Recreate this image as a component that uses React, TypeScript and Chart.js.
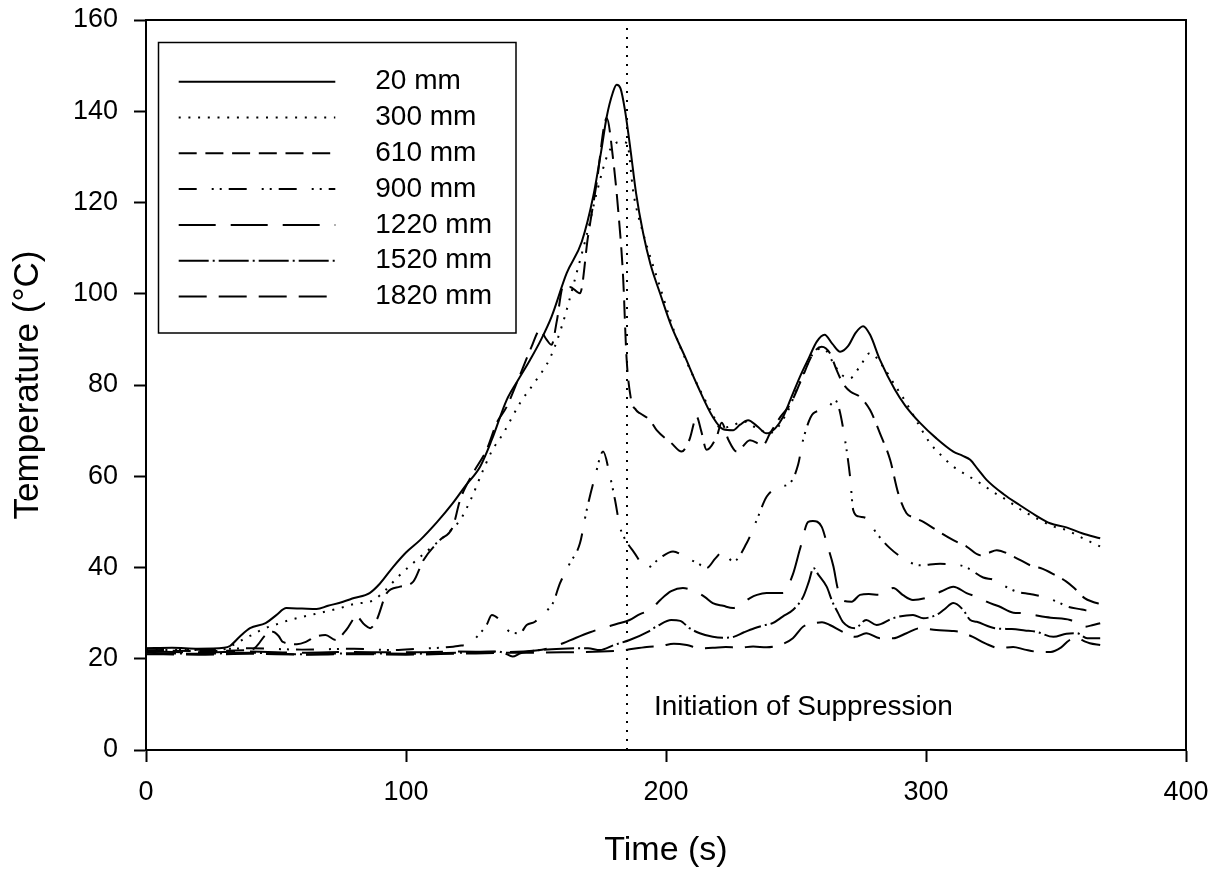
import React, { useEffect, useRef } from "react";
import { Chart, registerables } from "chart.js";

Chart.register(...registerables);

const FONT = "'Liberation Sans', Arial, Helvetica, sans-serif";

// ---- axis setup ----
const xMin = 0;
const xMax = 400;
const xStep = 100;
const yMin = 0;
const yMax = 160;
const yStep = 20;
const xTitle = "Time (s)";
const yTitle = "Temperature (°C)";

// ---- series labels ----
const seriesLabels = ["20 mm", "300 mm", "610 mm", "900 mm", "1220 mm", "1520 mm", "1820 mm"];

// ---- series values: [time s, temperature °C] ----
const s20: [number, number][] = [
  [0, 22.3], [10, 22.4], [20, 22.2], [30, 22.4], [32.3, 22.8], [36, 24.8], [40, 26.7], [46, 27.8], [50, 29.5],
  [54, 31.1], [60, 31.0], [65.6, 30.9], [70, 31.6], [75.8, 32.5], [80, 33.3], [86, 34.4], [90, 36.5], [95, 40.1],
  [100, 43.3], [105.4, 46], [112, 50], [118, 54.1], [123, 58], [128.5, 62.1], [133, 68], [138.7, 76.7], [143, 81],
  [147.7, 85.5], [152, 90], [156, 95], [161.8, 104.5], [167.6, 111.4], [172, 121.3], [175, 131], [177.2, 138.8],
  [179.5, 144], [181, 145.8], [182.5, 145], [184.2, 140.3], [186.2, 132.2], [188.5, 122], [191.2, 113.3],
  [194, 106.5], [197.7, 100.1], [202, 93], [207.3, 86.2], [212, 80], [218, 73], [222, 70.3], [225.8, 70.1],
  [228.5, 71.3], [231.6, 72.3], [235, 71], [238.7, 69.4], [242, 70.5], [245, 73], [248, 77], [251.5, 81.8],
  [255, 86], [258, 89.5], [261, 91], [264, 89], [267, 87.3], [270, 88.5], [273, 91.5], [275.8, 92.9],
  [278.5, 91], [282.3, 85.5], [288, 79], [292, 75.5], [297.7, 71.7], [304, 68.3], [310.5, 65.4], [314, 64.5],
  [317, 63.6], [320, 61.5], [323.3, 59.2], [330, 56], [336, 53.7], [342, 51.5], [347.7, 49.7], [354, 48.8],
  [360, 47.5], [367, 46.4],
];

const s300: [number, number][] = [
  [0, 22.0], [15, 21.9], [30, 22.1], [34.9, 23.5], [40, 25], [45, 26.5], [50, 27.5], [55.4, 28.5], [65, 29.8],
  [74.6, 31.1], [80, 32], [87.4, 32.8], [92, 35], [97, 38], [102.8, 41], [110, 44.5], [115, 47], [120.8, 50.4],
  [125, 55], [129.7, 61.4], [133, 65.5], [137.4, 69.4], [143.8, 76], [150, 81], [155.4, 85.9], [160, 93],
  [165.6, 104.5], [170, 114], [173.3, 122], [177.8, 130.8], [182.3, 133.3], [185, 133], [187.5, 122],
  [191.2, 113.3], [197.7, 101.5], [203, 92], [208, 85], [213, 79], [218, 73.5], [221, 70.5], [225, 71],
  [230, 72], [235, 70.5], [240, 69.5], [246.4, 73.8], [251, 80], [256.7, 87], [260.5, 88], [264.4, 84.8],
  [267, 82.5], [270.8, 81.5], [274.5, 84], [278.5, 87], [283.5, 84], [288, 80], [292.5, 76], [297, 71.5],
  [301.5, 67.3], [306, 64.5], [310.5, 62.1], [315, 60.5], [320.8, 58.5], [326, 56.5], [331, 54.8], [337, 52.5],
  [343.8, 50.4], [349, 49], [354, 48.2], [360, 46.5], [367, 44.6],
];

const s610: [number, number][] = [
  [0, 21.8], [20, 21.7], [40, 21.9], [42.3, 22.6], [46, 25.2], [48.7, 25.9], [51, 25], [52.6, 23.7], [58, 23.2],
  [61.5, 23.7], [65, 24.8], [69, 25.2], [73, 24.1], [77, 26.3], [81, 29.2], [84, 27.5], [86.2, 26.7],
  [88.7, 28.5], [92.6, 34.4], [97.7, 35.8], [102.8, 36.9], [106.7, 41.6], [113, 46], [118, 48.9], [120.8, 54.8],
  [125.8, 60.7], [131, 65.8], [134.9, 71.7], [138.7, 75.2], [143, 81], [148.3, 88.4], [151.5, 92], [154, 90],
  [156, 88.8], [158, 94], [160.4, 101.5], [163, 101.5], [166.9, 100.1], [170, 112.5], [173.3, 124.2],
  [177.2, 138.5], [179.7, 129.3], [181.6, 118.4], [183.5, 103.7], [184.8, 86.2], [186.5, 77], [188.5, 74.5],
  [190, 73.8], [193.8, 72.3], [196.4, 70.1], [202, 67.3], [206, 65.4], [209, 68], [211.8, 73], [213.5, 70],
  [215.6, 65.8], [219.5, 68.7], [221.4, 71.7], [224, 68], [227.2, 65.4], [232.3, 67.9], [237.3, 66.8],
  [240, 69.4], [244, 73], [248, 76], [251.5, 80.4], [256.7, 87], [259.9, 88.4], [263, 87], [265.6, 83.3],
  [268, 80.4], [271, 78.5], [274.6, 77.4], [278.5, 74.5], [282.3, 69.4], [286.2, 63.6], [289.3, 56.3],
  [292.5, 51.9], [295, 51], [299, 50], [304, 48.2], [310.5, 46], [315.6, 44.6], [320.8, 42.7], [324, 43.2],
  [327.2, 43.8], [333.6, 42.4], [341.3, 40.2], [344, 39.9], [349.5, 38.4], [354, 36.9], [357, 35.5],
  [361, 33.3], [364, 32.5], [367, 32],
];

const s900: [number, number][] = [
  [0, 22.2], [20, 22.0], [40, 22.3], [60, 22.0], [80, 22.2], [94, 21.9], [105, 22.2], [115, 22.5], [120, 22.8],
  [124.6, 23.4], [128.5, 25.6], [131, 27.4], [133, 29.6], [136, 28.5], [138, 27], [140, 25.9], [143.8, 25.6],
  [146.4, 27.4], [149.6, 28.1], [153, 30], [156.5, 32.2], [159.2, 36.5], [163, 40.9], [166.9, 45.3],
  [169.5, 52.6], [172.7, 59.9], [175.8, 65.4], [178.5, 59.9], [180.4, 54.8], [182.3, 48.9], [184.8, 45.7],
  [187.5, 43.5], [192.6, 39.9], [197.7, 42.1], [202.7, 43.5], [207.9, 42.1], [212, 41], [215.6, 39.9],
  [219, 42], [221.9, 43.5], [225.8, 41.3], [231, 45.3], [234.9, 50.4], [238.7, 55.5], [243.8, 57.7],
  [247.7, 58.5], [250.8, 62.5], [252.7, 67.9], [256.7, 73.8], [260.5, 74.5], [263, 75.5], [265, 76.7],
  [266.5, 75], [268, 70.9], [270.8, 59.9], [272, 52.6], [274, 51.2], [277, 50.8], [281, 47.5], [286, 44.3],
  [291, 42.1], [297.7, 40.5], [305.4, 40.8], [313, 40.5], [316, 39.9], [322, 37.8], [326, 37.3], [330, 36],
  [335, 34.7], [340, 34.2], [345, 33.6], [350, 32.6], [354.6, 31.4], [360, 30.8], [364, 30.3], [367, 30.2],
];

const s1220: [number, number][] = [
  [0, 21.6], [20, 21.4], [40, 21.6], [60, 21.3], [80, 21.5], [100, 21.4], [120, 21.6], [140, 21.5], [150, 21.8],
  [155, 22.3], [160.4, 23.4], [165, 24.5], [170.8, 25.8], [176, 26.8], [181, 27.6], [186, 28.5], [190, 29.8],
  [194, 30.7], [198, 33], [202, 34.8], [206.5, 35.5], [211.8, 34.6], [215, 33.5], [218, 32.2], [222, 31.6],
  [225.8, 31.1], [229, 32], [232.3, 33.3], [235, 34], [238.7, 34.4], [245, 34.4], [248.8, 38.5], [251.5, 44],
  [254.7, 50], [256.5, 50.2], [259.9, 48.9], [262, 45], [264.4, 40.2], [266, 35.5], [267.6, 32.9],
  [271.4, 32.5], [274.6, 34], [278, 34.2], [282, 34], [287.4, 35.5], [291, 34], [295, 32.9], [301.5, 33.6],
  [306, 34.8], [310.5, 35.8], [315.6, 34.4], [320.8, 33.3], [323.3, 32.5], [328, 31.5], [333.6, 30.1],
  [337, 30], [341.3, 29.6], [348, 29], [355.4, 28.5], [361, 27], [364.3, 27.4], [367, 27.8],
];

const s1520: [number, number][] = [
  [0, 21.3], [20, 21.1], [40, 21.3], [60, 21.0], [80, 21.2], [100, 21.1], [120, 21.3], [135, 21.6], [138, 21.2],
  [141, 20.5], [144, 21.2], [150, 21.8], [160, 22.2], [170, 22.3], [174.6, 21.9], [180, 23], [186, 24.1],
  [193, 25.9], [197, 27.3], [202, 28.5], [205.5, 28.3], [209, 26.7], [213, 25.6], [218, 24.8], [222, 24.6],
  [226, 24.8], [230, 25.8], [234, 26.7], [237.5, 27.3], [241, 27.8], [245, 29.3], [248.8, 30.7], [252.7, 33.5],
  [255, 37], [256.7, 39.9], [258.5, 38.5], [261.8, 35.8], [264, 32.5], [266.2, 30], [268, 28.1], [272.7, 26.7],
  [277, 28.5], [281, 27.4], [287.4, 28.9], [295, 29.6], [299, 28.9], [304, 29.6], [307, 30.8], [310.5, 32.2],
  [314.3, 30.7], [317, 28.5], [319.5, 28.1], [326.5, 26.7], [333, 26.5], [338, 26.2], [342.5, 25.9],
  [349, 24.8], [354, 25.5], [358, 25.6], [362, 24.5], [367, 24.5],
];

const s1820: [number, number][] = [
  [0, 21.0], [20, 20.9], [40, 21.1], [60, 20.9], [80, 21.0], [100, 20.9], [120, 21.1], [140, 21.3], [160, 21.4],
  [180, 21.7], [184, 21.9], [192.6, 22.6], [198, 22.8], [203, 23.3], [208, 23], [213, 22.3], [218, 22.4],
  [223, 22.6], [228, 22.4], [233.5, 22.7], [238.7, 22.5], [243.8, 23], [248.8, 24.5], [252.7, 27], [257, 27.8],
  [260, 28], [263, 27.4], [267.6, 26], [272.7, 24.8], [277, 25.6], [282.3, 24.5], [287.4, 24.5], [292.5, 25.6],
  [297.7, 26.7], [304, 26.3], [310, 26.1], [313, 25.9], [318, 24.8], [323, 23.3], [328.5, 22.3], [333.5, 22.6],
  [338, 22], [343.8, 21.5], [348, 21.5], [352, 22.5], [355, 24], [358.5, 24.5], [361, 23.8], [363, 23.4],
  [367, 23],
];

const seriesValues = [s20, s300, s610, s900, s1220, s1520, s1820];

// ---- annotation ----
const suppressionTime = 185;
const suppressionLabel = "Initiation of Suppression";

// ---- styles (kept apart from data) ----
const dashStyles: number[][] = [
  [],
  [2, 7.7],
  [18, 8.7],
  [18, 15, 2, 6, 2, 7],
  [37, 15],
  [30, 4, 2, 4],
  [28, 12],
];

const frameLegendPlugin = {
  id: "frameLegend",
  afterDatasetsDraw(chart: any) {
    const { ctx, chartArea: a, scales } = chart;
    ctx.save();
    // full frame
    ctx.setLineDash([]);
    ctx.strokeStyle = "#000";
    ctx.lineWidth = 2;
    ctx.strokeRect(a.left, a.top, a.right - a.left, a.bottom - a.top);

    // annotation text
    ctx.fillStyle = "#000";
    ctx.font = `28px ${FONT}`;
    ctx.textAlign = "left";
    ctx.textBaseline = "alphabetic";
    ctx.fillText(
      suppressionLabel,
      scales.x.getPixelForValue(suppressionTime) + 27,
      scales.y.getPixelForValue(7.7)
    );

    // legend box
    const bx = a.left + 12.5;
    const by = a.top + 22.5;
    const bw = 357.5;
    const bh = 290.5;
    ctx.fillStyle = "#fff";
    ctx.fillRect(bx, by, bw, bh);
    ctx.lineWidth = 1.5;
    ctx.strokeStyle = "#000";
    ctx.strokeRect(bx, by, bw, bh);

    chart.data.datasets.forEach((ds: any, i: number) => {
      if (i >= seriesLabels.length) return;
      const y = by + 39.2 + i * 35.8;
      ctx.strokeStyle = "#000";
      ctx.lineWidth = 2;
      ctx.setLineDash(ds.borderDash || []);
      ctx.beginPath();
      ctx.moveTo(bx + 20.2, y);
      ctx.lineTo(bx + 176.8, y);
      ctx.stroke();
      ctx.setLineDash([]);
      ctx.fillStyle = "#000";
      ctx.font = `28px ${FONT}`;
      ctx.textAlign = "left";
      ctx.textBaseline = "middle";
      ctx.fillText(ds.label, bx + 216.8, y);
    });
    ctx.restore();
  },
};

export default function App() {
  const ref = useRef<HTMLCanvasElement | null>(null);

  useEffect(() => {
    if (!ref.current) return;
    const datasets: any[] = seriesLabels.map((label, i) => ({
      label,
      data: seriesValues[i].map(([x, y]) => ({ x, y })),
      borderColor: "#000",
      backgroundColor: "#000",
      borderWidth: 2,
      borderDash: dashStyles[i],
      pointRadius: 0,
      fill: false,
      cubicInterpolationMode: "monotone",
    }));
    datasets.push({
      label: suppressionLabel,
      data: [
        { x: suppressionTime, y: yMin },
        { x: suppressionTime, y: yMax },
      ],
      borderColor: "#000",
      borderWidth: 2,
      borderDash: [2, 7],
      pointRadius: 0,
      fill: false,
      tension: 0,
    });

    const tickFont = { family: FONT, size: 27 };
    const chart = new Chart(ref.current, {
      type: "line",
      data: { datasets },
      plugins: [frameLegendPlugin],
      options: {
        responsive: false,
        animation: false,
        devicePixelRatio: 1,
        layout: { padding: { top: 20, right: 36, left: 0, bottom: 0 } },
        plugins: { legend: { display: false }, tooltip: { enabled: false } },
        scales: {
          x: {
            type: "linear",
            min: xMin,
            max: xMax,
            ticks: { stepSize: xStep, font: tickFont, color: "#000", padding: 14, maxRotation: 0 },
            grid: { display: true, drawOnChartArea: false, drawTicks: true, tickLength: 12, tickWidth: 2, tickColor: "#000" },
            border: { display: true, color: "#000", width: 2 },
            title: { display: true, text: xTitle, color: "#000", font: { family: FONT, size: 34 }, padding: { top: 0, bottom: 4 } },
            afterFit: (s: any) => {
              s.height = 125;
              s.paddingLeft = 0;
              s.paddingRight = 0;
            },
          },
          y: {
            type: "linear",
            min: yMin,
            max: yMax,
            ticks: { stepSize: yStep, font: tickFont, color: "#000", padding: 16 },
            grid: { display: true, drawOnChartArea: false, drawTicks: true, tickLength: 12, tickWidth: 2, tickColor: "#000" },
            border: { display: true, color: "#000", width: 2 },
            title: { display: true, text: yTitle, color: "#000", font: { family: FONT, size: 35 }, padding: { top: 7, bottom: 0 } },
            afterFit: (s: any) => {
              s.width = 146;
              s.paddingTop = 0;
              s.paddingBottom = 0;
            },
          },
        },
      } as any,
    });
    return () => chart.destroy();
  }, []);

  return (
    <div style={{ position: "absolute", left: 0, top: 0, width: 1222, height: 875, background: "#fff" }}>
      <canvas ref={ref} width={1222} height={875} style={{ display: "block" }} />
    </div>
  );
}
